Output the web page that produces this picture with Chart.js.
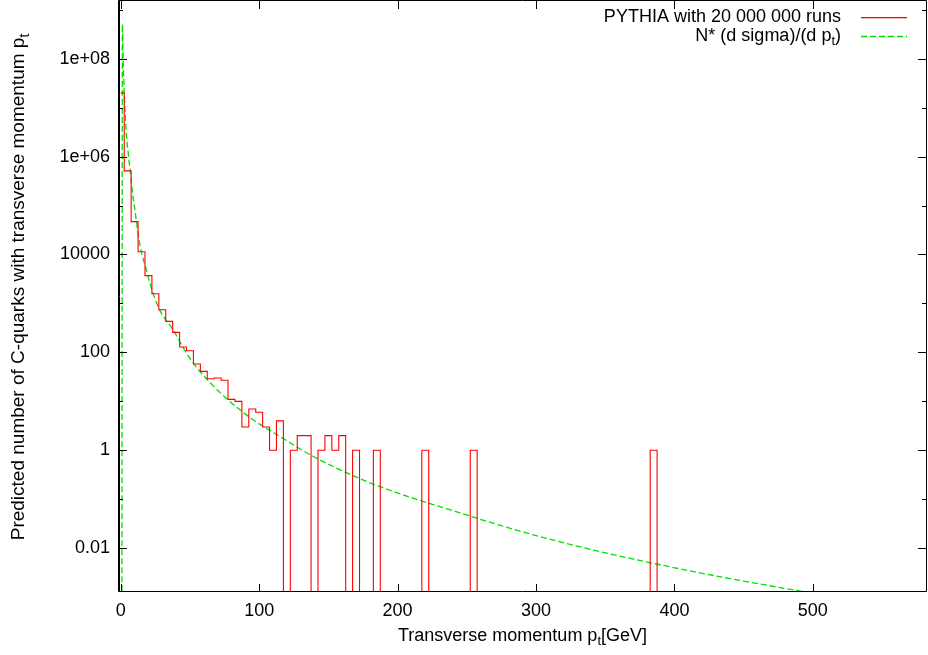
<!DOCTYPE html>
<html><head><meta charset="utf-8">
<script src="https://cdn.jsdelivr.net/npm/chart.js@4.4.1/dist/chart.umd.min.js"></script>
<style>html,body{margin:0;padding:0;background:#fff;}#wrap{width:928px;height:655px;position:relative;}</style>
</head><body><div id="wrap"><canvas id="c" width="928" height="655"></canvas></div>
<script>
// ---- data ----
const binCenters = [];
for (let i = 0; i <= 80; i++) binCenters.push(i * 5); // 0..400 GeV, 5 GeV bins
const pythiaCounts = [
  2e7, 5.1e5, 4.7e4, 1.14e4, 3700, 1580, 743, 430, 256, 129,
  108, 58, 41, 29, 30, 27, 11, 10, 3, 7,
  6, 3, 1, 4, 0, 1, 2, 2, 0, 1,
  2, 1, 2, 0, 1, 0, 0, 1, 0, 0,
  0, 0, 0, 0, 1, 0, 0, 0, 0, 0,
  0, 1, 0, 0, 0, 0, 0, 0, 0, 0,
  0, 0, 0, 0, 0, 0, 0, 0, 0, 0,
  0, 0, 0, 0, 0, 0, 0, 1, 0, 0,
  0
];
const curvePt = [0.75, 1.2, 1.7, 2.7, 4, 5.5, 7, 8.5, 10, 13.6, 18.4, 23.2, 28.1, 37.7, 49.7, 64, 90.7, 114.8, 138.9, 172.7, 196.7, 245, 293.2, 341.4, 389.6, 440, 492, 540, 582];
const curveValues = [0, 5e8, 1e8, 1.5e7, 3e6, 1.1e6, 4.5e5, 1.8e5, 9e4, 1.7e4, 4900, 1660, 740, 290, 77, 25, 5.3, 1.93, 0.755, 0.264, 0.145, 0.0527, 0.0205, 0.0092, 0.0046, 0.0024, 0.00132, 0.00078, 0.00051];
const xTickValues = [0, 100, 200, 300, 400, 500];
const yTickValues = [0.01, 1, 100, 10000, 1e6, 1e8];
const yTickLabels = ['0.01', '1', '100', '10000', '1e+06', '1e+08'];
const yMinorTickValues = [0.1, 10, 1000, 1e5, 1e7, 1e9];
const seriesNames = [
  [{t: 'PYTHIA with 20 000 000 runs'}],
  [{t: 'N* (d sigma)/(d p'}, {t: 't', sub: true}, {t: ')'}]
];
const xTitle = [{t: 'Transverse momentum p'}, {t: 't', sub: true}, {t: '[GeV]'}];
const yTitle = [{t: 'Predicted number of C-quarks with transverse momentum p'}, {t: 't', sub: true}];

// ---- chart ----
const FONT = 'Liberation Sans, Arial, sans-serif';
const BELOW = 1e-6; // zero counts are drawn below the axis (clipped)
const RED = '#ff0000', GREEN = '#00e000';

function drawRich(ctx, segs, x, y, align, size) {
  const subSize = Math.round(size * 0.72);
  let w = 0;
  const widths = segs.map(s => { ctx.font = (s.sub ? subSize : size) + 'px ' + FONT; const m = ctx.measureText(s.t).width; w += m; return m; });
  let cx = align === 'right' ? x - w : align === 'center' ? x - w / 2 : x;
  ctx.textAlign = 'left';
  ctx.textBaseline = 'middle';
  segs.forEach((s, i) => {
    ctx.font = (s.sub ? subSize : size) + 'px ' + FONT;
    ctx.fillText(s.t, cx, s.sub ? y + size * 0.3 : y);
    cx += widths[i];
  });
}

const framePlugin = {
  id: 'frame',
  afterDraw(chart) {
    const ctx = chart.ctx, ca = chart.chartArea;
    const xs = chart.scales.x, ys = chart.scales.y;
    ctx.save();
    ctx.strokeStyle = '#000';
    ctx.lineWidth = 1;
    ctx.beginPath();
    ctx.rect(ca.left + 0.5, ca.top - 0.5, ca.right - ca.left - 1, ca.bottom - ca.top);
    ctx.stroke();
    ctx.beginPath();
    ctx.moveTo(ca.left + 1.5, ca.top); ctx.lineTo(ca.left + 1.5, ca.bottom);
    xTickValues.forEach(v => {
      const px = Math.round(xs.getPixelForValue(v)) + 0.5;
      ctx.moveTo(px, ca.bottom); ctx.lineTo(px, ca.bottom - 8);
      ctx.moveTo(px, ca.top); ctx.lineTo(px, ca.top + 8);
    });
    yTickValues.forEach(v => {
      const py = Math.round(ys.getPixelForValue(v)) + 0.5;
      ctx.moveTo(ca.left, py); ctx.lineTo(ca.left + 9, py);
      ctx.moveTo(ca.right, py); ctx.lineTo(ca.right - 9, py);
    });
    yMinorTickValues.forEach(v => {
      const py = Math.round(ys.getPixelForValue(v)) + 0.5;
      if (py < ca.top || py > ca.bottom) return;
      ctx.moveTo(ca.left, py); ctx.lineTo(ca.left + 5, py);
      ctx.moveTo(ca.right, py); ctx.lineTo(ca.right - 5, py);
    });
    ctx.stroke();

    // legend (inside, top right)
    const legY = [17, 36];
    seriesNames.forEach((segs, i) => {
      ctx.fillStyle = '#000';
      drawRich(ctx, segs, 841, legY[i], 'right', 18);
    });
    ctx.fillStyle = RED;
    ctx.fillRect(861, legY[0], 46, 1.3);
    ctx.beginPath();
    ctx.strokeStyle = GREEN;
    ctx.lineWidth = 1.3;
    ctx.setLineDash([6, 3]);
    ctx.moveTo(861, legY[1] + 0.5); ctx.lineTo(907, legY[1] + 0.5);
    ctx.stroke();
    ctx.setLineDash([]);

    // axis titles
    ctx.fillStyle = '#000';
    drawRich(ctx, xTitle, (ca.left + ca.right) / 2, 636, 'center', 18);
    ctx.translate(19, 287);
    ctx.rotate(-Math.PI / 2);
    drawRich(ctx, yTitle, 0, 0, 'center', 19);
    ctx.restore();
  }
};

new Chart(document.getElementById('c'), {
  type: 'line',
  data: {
    datasets: [
      {
        label: 'PYTHIA with 20 000 000 runs',
        data: binCenters.map((x, i) => ({x: x, y: pythiaCounts[i] > 0 ? pythiaCounts[i] : BELOW})),
        borderColor: RED, borderWidth: 1.1, pointRadius: 0, stepped: 'middle', fill: false
      },
      {
        label: 'N* (d sigma)/(d pt)',
        data: curvePt.map((x, i) => ({x: x, y: curveValues[i] > 0 ? curveValues[i] : BELOW})),
        borderColor: GREEN, borderWidth: 1.3, borderDash: [6, 3], pointRadius: 0, fill: false,
        cubicInterpolationMode: 'monotone'
      }
    ]
  },
  options: {
    responsive: false, animation: false, devicePixelRatio: 1,
    layout: {padding: {top: 1, right: 1, left: 0, bottom: 0}},
    plugins: {legend: {display: false}, tooltip: {enabled: false}},
    scales: {
      x: {
        type: 'linear', min: -2, max: 582.5,
        grid: {display: false, drawTicks: false}, border: {display: false},
        afterBuildTicks: s => { s.ticks = xTickValues.map(v => ({value: v})); },
        afterFit: s => { s.height = 63; s.paddingLeft = 0; s.paddingRight = 0; s.paddingTop = 0; s.paddingBottom = 0; },
        ticks: {autoSkip: false, maxRotation: 0, padding: 8, color: '#000', font: {family: FONT, size: 18},
          callback: v => String(v)}
      },
      y: {
        type: 'logarithmic', min: Math.pow(10, -2.894), max: Math.pow(10, 9.178),
        grid: {display: false, drawTicks: false}, border: {display: false},
        afterBuildTicks: s => { s.ticks = yTickValues.map(v => ({value: v})); },
        afterFit: s => { s.width = 118; s.paddingTop = 0; s.paddingBottom = 0; s.paddingLeft = 0; s.paddingRight = 0; },
        ticks: {autoSkip: false, padding: 8, color: '#000', font: {family: FONT, size: 18},
          callback: (v, i) => yTickLabels[i]}
      }
    }
  },
  plugins: [framePlugin]
});
</script>
</body></html>
